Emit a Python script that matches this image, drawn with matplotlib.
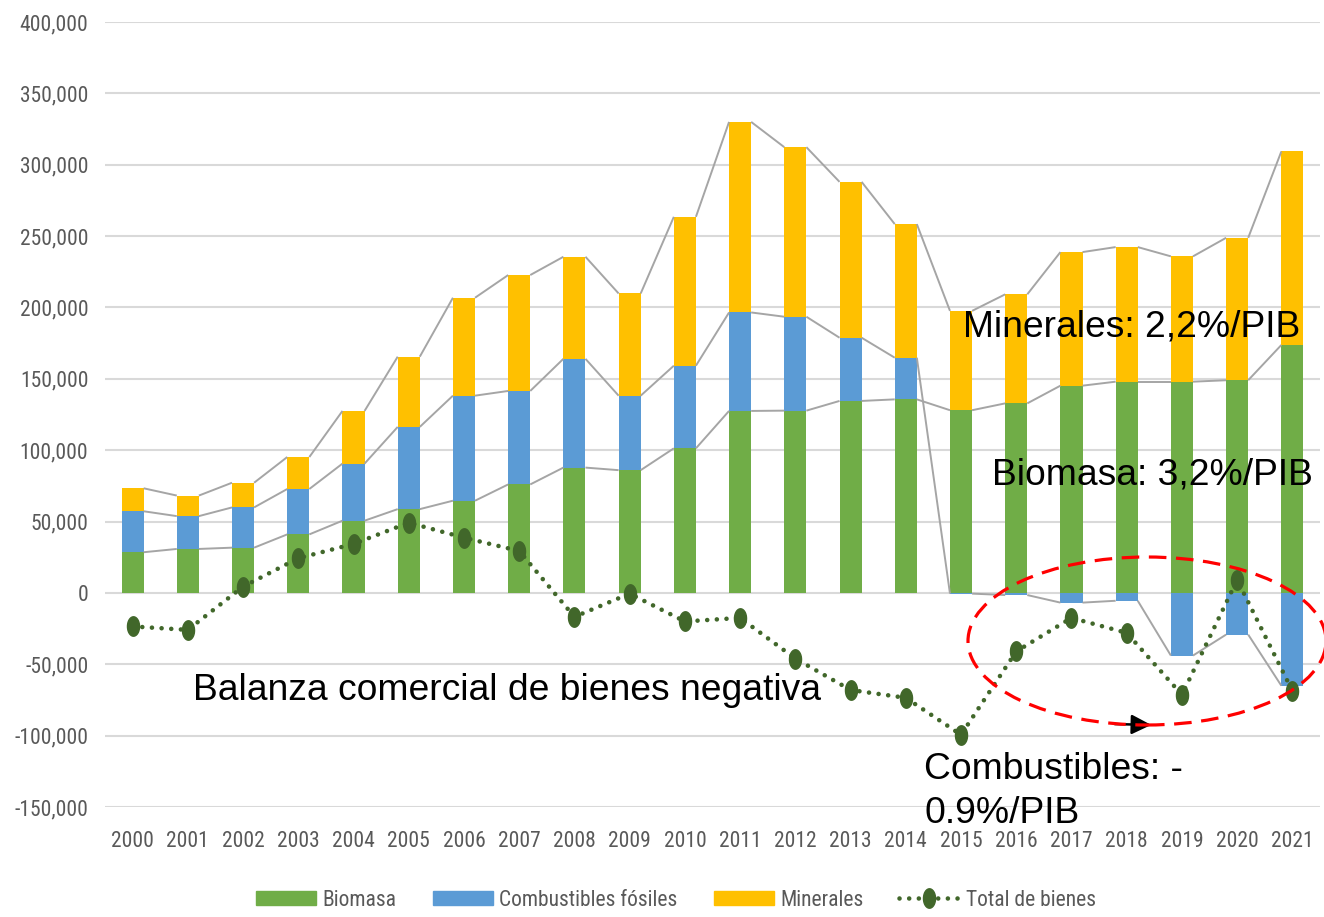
import numpy as np
import matplotlib.pyplot as plt
from matplotlib import font_manager
from matplotlib.patches import Patch, Ellipse
from matplotlib.lines import Line2D
from matplotlib.path import Path
from matplotlib.ticker import FuncFormatter

years = [str(y) for y in range(2000, 2022)]
biomasa = [28.5, 30.8, 31.7, 41.0, 50.6, 58.7, 64.6, 76.0, 87.8, 86.0, 101.3,
           127.5, 127.7, 134.5, 135.6, 128.0, 132.8, 145.2, 148.0, 148.0, 149.0, 173.7]
fosiles = [28.7, 23.0, 28.2, 31.8, 40.0, 57.6, 73.6, 65.5, 76.2, 52.2, 57.9,
           69.0, 65.8, 44.3, 29.2, -0.5, -1.5, -6.8, -5.5, -43.9, -29.2, -65.0]
minerales = [16.1, 14.4, 17.3, 22.4, 36.9, 49.2, 68.6, 81.2, 71.5, 71.6, 104.3,
             133.5, 118.8, 109.2, 93.6, 69.6, 76.4, 93.6, 94.3, 87.8, 99.8, 135.6]
total = [-23.5, -25.9, 4.4, 24.3, 34.3, 49.2, 38.7, 29.4, -16.8, -0.5, -20.0,
         -17.5, -46.0, -68.0, -73.5, -99.4, -41.0, -17.5, -28.0, -71.4, 9.1, -68.6]

bio = np.array(biomasa) * 1000
fos = np.array(fosiles) * 1000
mnr = np.array(minerales) * 1000
tot = np.array(total) * 1000
x = np.arange(len(years))

c_bio = '#70AD47'
c_fos = '#5B9BD5'
c_min = '#FFC000'
c_tot = '#41672A'
c_tick = '#595959'
arial = ['Liberation Sans', 'DejaVu Sans']

# axis labels use a narrow face in the original; pick what is installed
installed = {f.name for f in font_manager.fontManager.ttflist}
narrow, small_size = ['Liberation Sans'], 13.5
for name, size in [('Liberation Sans Narrow', 16.5), ('Arial Narrow', 16.5),
                   ('Roboto Condensed', 15.5)]:
    if name in installed:
        narrow, small_size = [name], size
        break

W, H = 1324, 917
fig = plt.figure(figsize=(W / 100, H / 100), dpi=100)
ax = fig.add_axes([105 / W, 110 / H, (1320 - 105) / W, (807 - 22) / H])
ax.set_xlim(-0.5, len(years) - 0.5)
ax.set_ylim(-150000, 400000)

# stacked bars (negatives stack down from zero like Excel)
bw = 0.4
fos_bottom = np.where(fos >= 0, bio, 0)
min_bottom = bio + np.clip(fos, 0, None)
ax.bar(x, bio, bw, color=c_bio, zorder=2)
ax.bar(x, fos, bw, bottom=fos_bottom, color=c_fos, zorder=2)
ax.bar(x, mnr, bw, bottom=min_bottom, color=c_min, zorder=2)

# series lines between bars
ends = [bio, fos_bottom + fos, min_bottom + mnr]
for e in ends:
    for i in range(len(x) - 1):
        ax.plot([x[i] + bw / 2, x[i + 1] - bw / 2], [e[i], e[i + 1]],
                color='#A5A5A5', lw=1.4, zorder=2.5, solid_capstyle='butt')

# total de bienes
t = np.linspace(0, 2 * np.pi, 40)
ell = Path(np.column_stack([0.62 * np.cos(t), np.sin(t)]), closed=True)
dots = (0, (0.01, 2.1))
ax.plot(x, tot, color=c_tot, lw=3.3, linestyle=dots,
        dash_capstyle='round', zorder=4)
ax.plot(x, tot, linestyle='none', marker=ell, markersize=14,
        color=c_tot, zorder=4.5)

# axes style
ax.grid(axis='y', color='#D9D9D9', lw=1.5, zorder=0)
ax.set_axisbelow(True)
for s in ax.spines.values():
    s.set_visible(False)
ax.set_yticks(np.arange(-150000, 400001, 50000))
ax.yaxis.set_major_formatter(FuncFormatter(lambda v, p: f'{v:,.0f}'))
ax.set_xticks(x)
ax.set_xticklabels(years)
ax.tick_params(length=0, colors=c_tick, labelsize=small_size)
ax.tick_params(axis='y', pad=12)
ax.tick_params(axis='x', pad=17)
for lab in ax.get_xticklabels() + ax.get_yticklabels():
    lab.set_family(narrow)

# annotations
def ftext(px, py, s):
    fig.text(px / W, 1 - py / H, s, fontsize=26.8, family=arial,
             color='black', va='baseline', ha='left')

ftext(963, 337, 'Minerales: 2,2%/PIB')
ftext(992, 485, 'Biomasa: 3,2%/PIB')
ftext(193, 700, 'Balanza comercial de bienes negativa')
ftext(924, 779, 'Combustibles: -')
ftext(924, 823, '0.9%/PIB')

fig.add_artist(Ellipse((1147 / W, 1 - 641 / H), 358 / W, 168 / H,
                       transform=fig.transFigure, fill=False, edgecolor='#FF0000',
                       lw=2.3, linestyle=(0, (5.5, 3)), clip_on=False, zorder=5))
fig.add_artist(plt.Annotation('', xy=(1154, H - 725), xytext=(1112, H - 724),
                              xycoords='figure pixels', textcoords='figure pixels',
                              arrowprops=dict(arrowstyle='-|>', color='black',
                                              lw=1.8, mutation_scale=30)))

# legend
handles = [Patch(color=c_bio), Patch(color=c_fos), Patch(color=c_min),
           Line2D([], [], color=c_tot, lw=3.3, linestyle=dots,
                  dash_capstyle='round', marker=ell, markersize=14)]
labels = ['Biomasa', 'Combustibles fósiles', 'Minerales', 'Total de bienes']
em = small_size * 100 / 72
fig.legend(handles, labels, loc='center', bbox_to_anchor=(676 / W, 1 - 900 / H),
           ncol=4, frameon=False, handlelength=60 / em, handleheight=0.6,
           handletextpad=0.3, columnspacing=36 / em,
           borderpad=0, prop={'family': narrow, 'size': small_size},
           labelcolor=c_tick)

fig.savefig('out.png', dpi=100)
plt.close(fig)
